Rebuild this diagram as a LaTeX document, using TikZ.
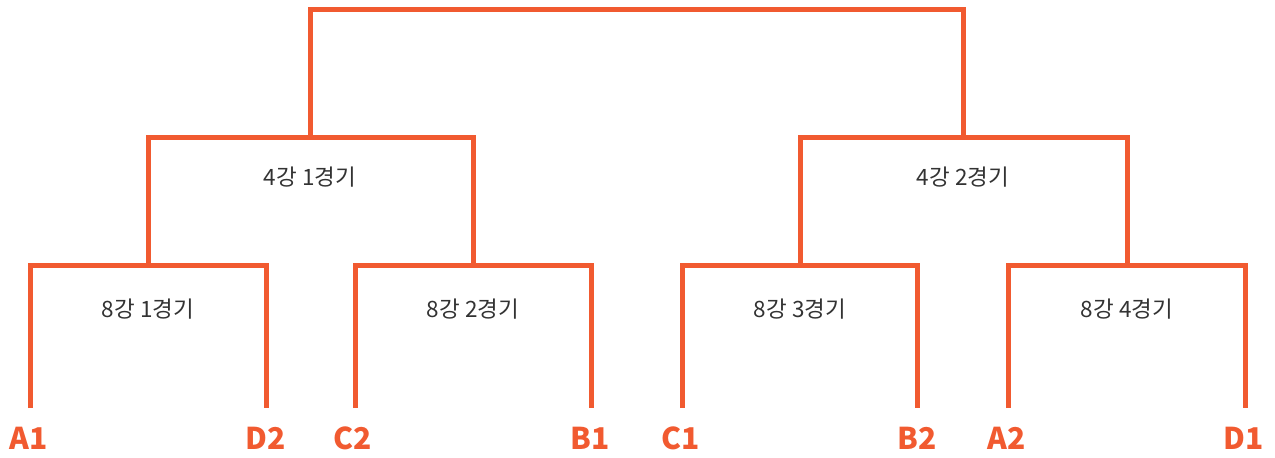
\documentclass[tikz,border=0pt]{standalone}
\usepackage{fontspec}
\setmainfont{Noto Sans CJK KR}
\definecolor{brk}{HTML}{F15A30}
\definecolor{txt}{HTML}{333333}
\begin{document}
\begin{tikzpicture}[x=1pt,y=-1pt,
  bline/.style={draw=brk,line width=5pt,line cap=butt,line join=miter},
  team/.style={text=brk,font=\fontsize{30}{32}\selectfont\bfseries,inner sep=0pt,anchor=center},
  game/.style={text=txt,font=\fontsize{22.5}{25}\selectfont,inner sep=0pt,anchor=center}]
\useasboundingbox (0,0) rectangle (1275,458);
% leaf coordinates
\foreach \n/\x in {a1/30,d2/266,c2/355,b1/591,c1/682,b2/917,a2/1008,d1/1245}{
  \coordinate (\n) at (\x,408);
}
\coordinate (q1) at (148,265);
\coordinate (q2) at (473,265);
\coordinate (q3) at (800,265);
\coordinate (q4) at (1127,265);
\coordinate (s1) at (310,137);
\coordinate (s2) at (963,137);
\coordinate (f) at (636,9);
% brackets
\draw[bline] (a1) |- (q1) -| (d2);
\draw[bline] (c2) |- (q2) -| (b1);
\draw[bline] (c1) |- (q3) -| (b2);
\draw[bline] (a2) |- (q4) -| (d1);
\draw[bline] (q1) |- (s1) -| (q2);
\draw[bline] (q3) |- (s2) -| (q4);
\draw[bline] (s1) |- (f) -| (s2);
% team labels
\node[team] (la1) at (29,438) {A1};
\node[team] (ld2) at (266,438) {D2};
\node[team] (lc2) at (353,438) {C2};
\node[team] (lb1) at (590,438) {B1};
\node[team] (lc1) at (681,438) {C1};
\node[team] (lb2) at (917,438) {B2};
\node[team] (la2) at (1007,438) {A2};
\node[team] (ld1) at (1244,438) {D1};
% game labels
\node[game] (g1) at (148,309) {8강 1경기};
\node[game] (g2) at (473,309) {8강 2경기};
\node[game] (g3) at (800,309) {8강 3경기};
\node[game] (g4) at (1127,309) {8강 4경기};
\node[game] (h1) at (310,177) {4강 1경기};
\node[game] (h2) at (963,177) {4강 2경기};
\end{tikzpicture}
\end{document}
